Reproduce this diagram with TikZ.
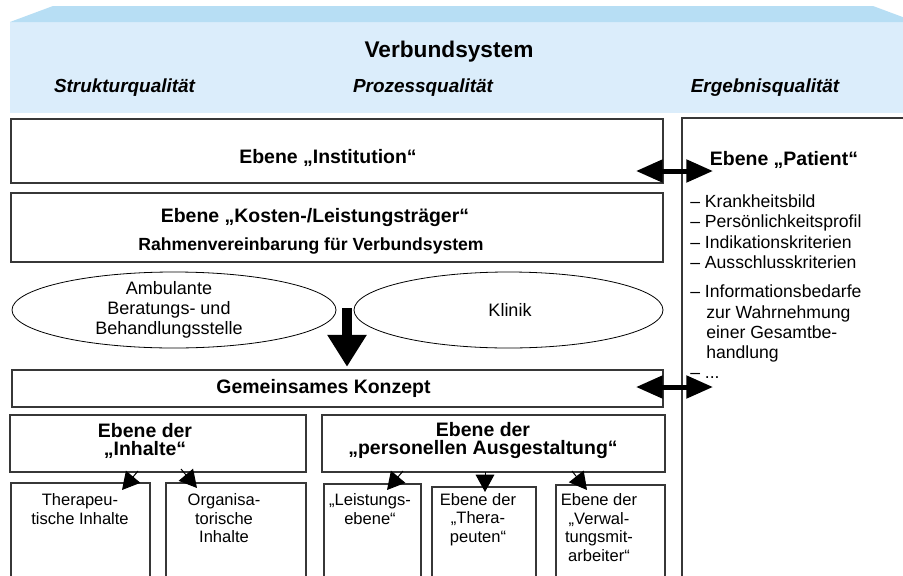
\documentclass[tikz,border=0pt]{standalone}
\usepackage{fontspec}
\setmainfont{Liberation Sans}
\usetikzlibrary{arrows.meta,shapes.geometric,fit}
\definecolor{hdrlight}{RGB}{219,237,251}
\definecolor{hdrdark}{RGB}{183,222,244}
\definecolor{boxgray}{RGB}{55,55,55}
\begin{document}
\begin{tikzpicture}[x=0.75pt,y=-0.75pt,
  box/.style={draw=boxgray,line width=0.8pt,inner sep=0pt},
  ell/.style={draw=black,line width=0.6pt,ellipse,inner sep=0pt},
  ttl/.style={font=\bfseries\fontsize{14.6pt}{13.5pt}\selectfont,align=center,inner sep=0pt},
  sub/.style={font=\bfseries\fontsize{13.2pt}{15pt}\selectfont,inner sep=0pt},
  hq/.style={font=\bfseries\itshape\fontsize{14.2pt}{16pt}\selectfont,inner sep=0pt},
  etxt/.style={font=\fontsize{13.5pt}{15pt}\selectfont,align=center,inner sep=0pt},
  btxt/.style={font=\fontsize{12.4pt}{13.9pt}\selectfont,align=center,inner sep=0pt},
  ltxt/.style={font=\fontsize{13.2pt}{15pt}\selectfont,anchor=base west,inner sep=0pt},
  dbl/.style={line width=3.75pt,{Triangle[length=20pt,width=16.5pt]}-{Triangle[length=20pt,width=16.5pt]}},
  sml/.style={line width=0.75pt,-{Triangle[length=13pt,width=14pt]}},
]
\useasboundingbox (0,0) rectangle (903,575);
\clip (0,0) rectangle (903,575);
\fill[white] (0,0) rectangle (903,575);
% header
\fill[hdrlight] (10,22) rectangle (903,113);
\fill[hdrdark] (10,22) -- (53,6) -- (873,6) -- (916,22) -- cycle;
\node[font=\bfseries\fontsize{17pt}{20pt}\selectfont,inner sep=0pt] (verb) at (449,52) {Verbundsystem};
\node[hq] (sq) at (124.5,88) {Strukturqualität};
\node[hq] (pq) at (423,88) {Prozessqualität};
\node[hq] (eq) at (765,88) {Ergebnisqualität};
% boxes
\node[box,fit={(11,119) (663,183)}] (inst) {};
\node[ttl] (instt) at (328,158) {Ebene „Institution“};
\node[box,fit={(11,193) (663,262)}] (kost) {};
\node[ttl] (kostt) at (315,218) {Ebene „Kosten-/Leistungsträger“};
\node[sub] (rahm) at (311,246) {Rahmenvereinbarung für Verbundsystem};
\node[box,fit={(682,118) (912,590)}] (pat) {};
\node[ttl] (patt) at (784,160) {Ebene „Patient“};
% list
\node[ltxt] (l1) at (690,207) {– Krankheitsbild};
\node[ltxt] (l2) at (690,227) {– Persönlichkeitsprofil};
\node[ltxt] (l3) at (690,248) {– Indikationskriterien};
\node[ltxt] (l4) at (690,268) {– Ausschlusskriterien};
\node[ltxt] (l5) at (690,297) {– Informationsbedarfe};
\node[ltxt] (l6) at (706,318) {zur Wahrnehmung};
\node[ltxt] (l7) at (706,338) {einer Gesamtbe-};
\node[ltxt] (l8) at (706,358) {handlung};
\node[ltxt] (l9) at (690,378) {– ...};
% ellipses
\node[ell,minimum width=243pt,minimum height=57pt] (amb) at (174,310) {};
\node[etxt] (ambt) at (169,310) {Ambulante\\Beratungs- und\\Behandlungsstelle};
\node[ell,minimum width=231.75pt,minimum height=57pt] (kli) at (508.5,310) {};
\node[etxt] (klit) at (510,310) {Klinik};
% common concept
\node[box,fit={(12,370) (663,407)}] (konz) {};
\node[ttl] (konzt) at (323.5,388) {Gemeinsames Konzept};
% big arrow
\coordinate (bigs) at (347,308);
\draw[line width=7.5pt,-{Triangle[length=24pt,width=28pt]},shorten >=2pt] (bigs) -- (bigs |- konz.north);
% double arrows
\coordinate (ia1) at (636,171);
\coordinate (ia2) at (713,171);
\draw[dbl] (ia1) -- (ia2);
\coordinate (ka1) at (636,387);
\coordinate (ka2) at (713,387);
\draw[dbl] (ka1) -- (ka2);
% second level
\node[box,fit={(10,415) (306,472)}] (inh) {};
\node[ttl] (inht) at (145,441) {Ebene der\\„Inhalte“};
\node[box,fit={(322,415) (665,472)}] (pers) {};
\node[ttl] (perst) at (483,441) {Ebene der\\„personellen Ausgestaltung“};
% third level
\node[box,fit={(11,483) (150,590)}] (ther) {};
\node[btxt] (thert) at (80,509) {Therapeu-\\tische Inhalte};
\node[box,fit={(166,483) (306,590)}] (orga) {};
\node[btxt] (orgat) at (224,518.5) {Organisa-\\torische\\Inhalte};
\node[box,fit={(324,484) (421,590)}] (leis) {};
\node[btxt] (leist) at (370,509) {„Leistungs-\\ebene“};
\node[box,fit={(432,487) (536,590)}] (thp) {};
\node[btxt] (thpt) at (478,519.5) {Ebene der\\„Thera-\\peuten“};
\node[box,fit={(556,485) (665,590)}] (verw) {};
\node[btxt] (verwt) at (599,527.5) {Ebene der\\„Verwal-\\tungsmit-\\arbeiter“};
% small arrows
\coordinate (s1) at (138,471); \coordinate (t1) at (122,490);
\coordinate (s2) at (181,469); \coordinate (t2) at (197,488);
\coordinate (s3) at (403,471); \coordinate (t3) at (387,490);
\coordinate (s4) at (485,472); \coordinate (t4) at (485,492);
\coordinate (s5) at (572,471); \coordinate (t5) at (587,490);
\draw[sml] (s1) -- (t1);
\draw[sml] (s2) -- (t2);
\draw[sml] (s3) -- (t3);
\draw[sml] (s4) -- (t4);
\draw[sml] (s5) -- (t5);
\end{tikzpicture}
\end{document}
